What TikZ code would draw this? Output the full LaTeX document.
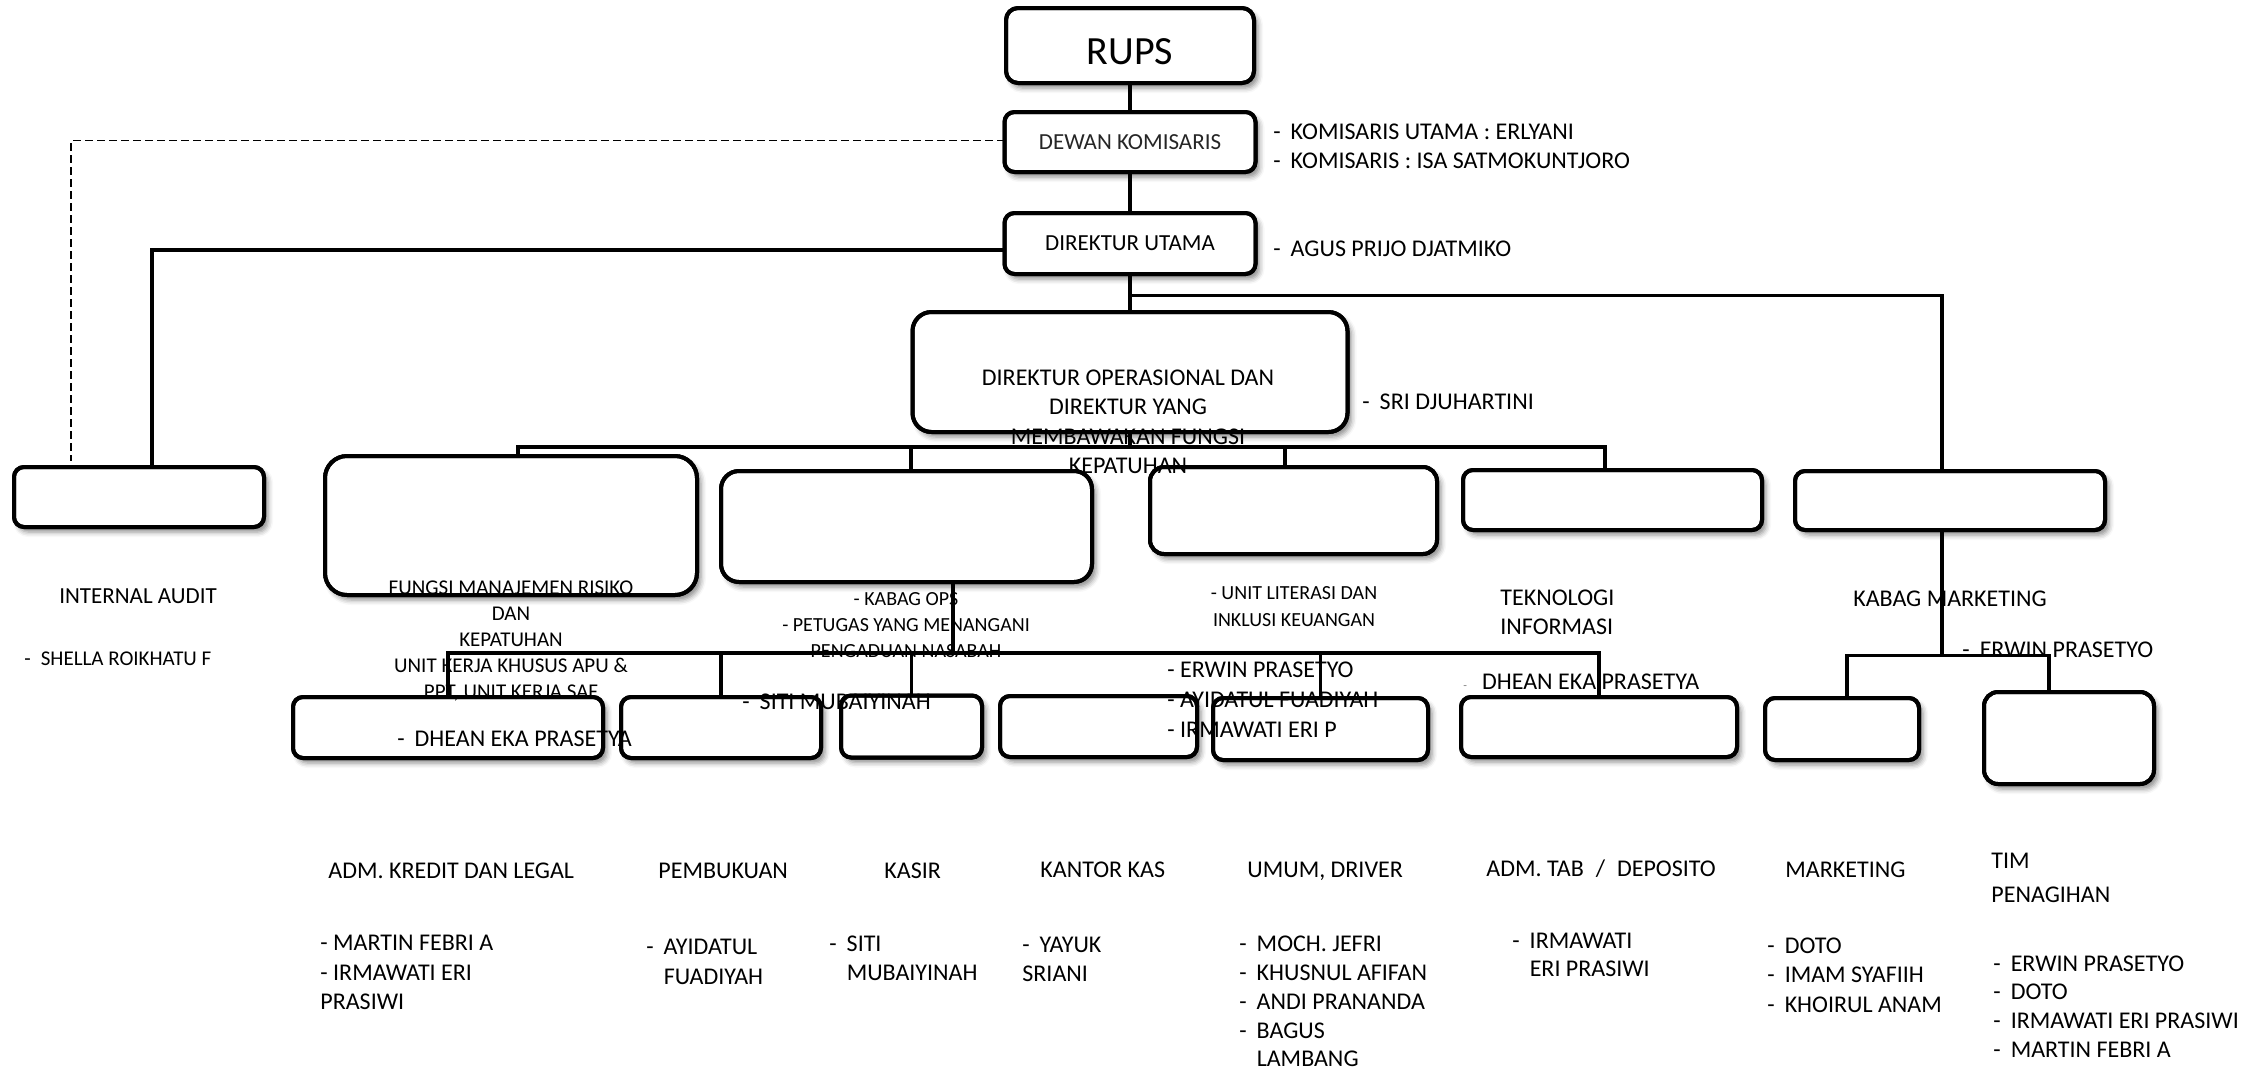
\documentclass[tikz,border=0pt]{standalone}
\usepackage{fontspec}
\setmainfont{Carlito}
\usetikzlibrary{shadows.blur}
\newcommand{\tb}{-\hspace{5pt}}
\begin{document}
\begin{tikzpicture}[x=0.5pt,y=-0.5pt,
  box/.style={draw, line width=2pt, fill=white, inner sep=0pt, outer sep=0pt, rounded corners=5pt,
    blur shadow={shadow xshift=2pt, shadow yshift=-2.5pt, shadow blur radius=2.5pt, shadow opacity=45}},
  conn/.style={line width=1.6pt},
  dashconn/.style={line width=0.8pt, dash pattern=on 4pt off 2pt},
  t12/.style={inner sep=0pt, align=left, anchor=north west, font=\fontsize{12}{14.6}\selectfont},
  t10/.style={inner sep=0pt, align=center, anchor=north, font=\fontsize{10}{13}\selectfont},
]
\useasboundingbox (0,0) rectangle (2264,1067);

% ---------- boxes ----------
\node[box, rounded corners=6pt, minimum width=124pt, minimum height=37.5pt, font=\fontsize{20}{24}\selectfont] (rups) at (1130,45.5) {\raisebox{-3.25pt}[\height][\depth]{RUPS}};
\node[box, minimum width=125.5pt, minimum height=30pt, font=\fontsize{11.5}{14}\selectfont, text=black!85] (dk) at (1130,142) {DEWAN KOMISARIS};
\node[box, minimum width=125.5pt, minimum height=30.5pt, font=\fontsize{11.5}{14}\selectfont] (du) at (1130,243.5) {DIREKTUR UTAMA};
\node[box, rounded corners=9.5pt, minimum width=217.5pt, minimum height=60pt] (do) at (1130,372) {};
\node[box, minimum width=125pt, minimum height=30pt] (ia) at (139,497) {};
\node[box, rounded corners=11pt, minimum width=186pt, minimum height=69.5pt] (A) at (511,525.5) {};
\node[box, rounded corners=9pt, minimum width=185.5pt, minimum height=55.5pt] (B) at (906.5,526.5) {};
\node[box, rounded corners=7pt, minimum width=143.5pt, minimum height=43.5pt] (C) at (1293.5,510.5) {};
\node[box, minimum width=149.5pt, minimum height=30pt] (D) at (1612.5,500) {};
\node[box, minimum width=155pt, minimum height=29.5pt] (E) at (1950,500.5) {};
\node[box, minimum width=155pt, minimum height=30.5pt] (b1) at (448,727.5) {};
\node[box, minimum width=100pt, minimum height=30.5pt] (b2) at (721,727.5) {};
\node[box, minimum width=70.5pt, minimum height=31pt] (b3) at (911.5,726.5) {};
\node[box, minimum width=98.5pt, minimum height=30.5pt] (b4) at (1098.5,726.5) {};
\node[box, minimum width=107.5pt, minimum height=31pt] (b5) at (1320.5,729) {};
\node[box, minimum width=138pt, minimum height=30pt] (b6) at (1599,727) {};
\node[box, minimum width=77pt, minimum height=31pt] (b7) at (1842,729) {};
\node[box, rounded corners=7pt, minimum width=85pt, minimum height=46pt] (b8) at (2069,738) {};

% ---------- texts ----------
\node[t12, font=\fontsize{12}{14.5}\selectfont] (komt) at (1273,123.5) {\tb KOMISARIS UTAMA : ERLYANI\\\tb KOMISARIS : ISA SATMOKUNTJORO};
\node[t12] (agust) at (1273,240.5) {\tb AGUS PRIJO DJATMIKO};
\node[t12] (srit) at (1362,393.5) {\tb SRI DJUHARTINI};
\node[t12, align=center, anchor=north, font=\fontsize{12}{14.65}\selectfont] (dot) at (1128,369.5) {DIREKTUR OPERASIONAL DAN\\DIREKTUR YANG\\MEMBAWAKAN FUNGSI\\KEPATUHAN};
\node[t12, anchor=center, font=\fontsize{11.5}{14}\selectfont] (iat) at (138,596) {INTERNAL AUDIT};
\node[t12, font=\fontsize{10.5}{13}\selectfont] (shella) at (24,651.5) {\tb SHELLA ROIKHATU F};
\node[t10, font=\fontsize{10.5}{13}\selectfont] (fmrt) at (511,580.3) {FUNGSI MANAJEMEN RISIKO\\DAN\\KEPATUHAN\\UNIT KERJA KHUSUS APU \&\\PPT, UNIT KERJA SAF};
\node[t12] (dhean1) at (397,731) {\tb DHEAN EKA PRASETYA};
\node[t10] (opst) at (906,591.7) {- KABAG OPS\\- PETUGAS YANG MENANGANI\\PENGADUAN NASABAH};
\node[t12] (siti1) at (742,694) {\tb SITI MUBAIYINAH};
\node[t10, font=\fontsize{10}{13.5}\selectfont] (litt) at (1294,586.6) {- UNIT LITERASI DAN\\INKLUSI KEUANGAN};
\node[t12, font=\fontsize{12}{15}\selectfont] (erwt) at (1167,661.5) {- ERWIN PRASETYO\\- AYIDATUL FUADIYAH\\- IRMAWATI ERI P};
\node[t12, font=\fontsize{12}{14.5}\selectfont] (tit) at (1500,589.5) {TEKNOLOGI\\INFORMASI};
\node[t12] (dhean2) at (1463,674) {{\color{gray}\fontsize{6}{7}\selectfont -}\hspace{7.5pt}DHEAN EKA PRASETYA};
\node[t12, anchor=center] (kmt) at (1950,598.7) {KABAG MARKETING};
\node[t12] (erw2) at (1962,641.5) {\tb ERWIN PRASETYO};

\node[t12] (h1) at (328,862.4) {ADM. KREDIT DAN LEGAL};
\node[t12] (h2) at (658,862.4) {PEMBUKUAN};
\node[t12] (h3) at (884,862.4) {KASIR};
\node[t12] (h4) at (1040,861.4) {KANTOR KAS};
\node[t12] (h5) at (1247,861.4) {UMUM, DRIVER};
\node[t12, anchor=base west] (h6) at (1486,876.6) {ADM. TAB\hspace{6pt}/\hspace{6pt}DEPOSITO};
\node[t12] (h7) at (1785,861.4) {MARKETING};
\node[t12, font=\fontsize{12}{17}\selectfont] (h8) at (1991,852.4) {TIM\\PENAGIHAN};

\node[t12, font=\fontsize{12}{14.9}\selectfont] (l1) at (320,934.4) {- MARTIN FEBRI A\\- IRMAWATI ERI\\PRASIWI};
\node[t12, font=\fontsize{12}{14.9}\selectfont] (l2) at (646,938.4) {\tb AYIDATUL\\\phantom{\tb}FUADIYAH};
\node[t12] (l3) at (829,935.7) {\tb SITI\\\phantom{\tb}MUBAIYINAH};
\node[t12] (l4) at (1022,936.4) {\tb YAYUK\\SRIANI};
\node[t12, font=\fontsize{12}{14.4}\selectfont] (l5) at (1239,935.7) {\tb MOCH. JEFRI\\\tb KHUSNUL AFIFAN\\\tb ANDI PRANANDA\\\tb BAGUS\\\phantom{\tb}LAMBANG};
\node[t12, font=\fontsize{12}{14.2}\selectfont] (l6) at (1512,932.4) {\tb IRMAWATI\\\phantom{\tb}ERI PRASIWI};
\node[t12, font=\fontsize{12}{14.8}\selectfont] (l7) at (1767,937.4) {\tb DOTO\\\tb IMAM SYAFIIH\\\tb KHOIRUL ANAM};
\node[t12, font=\fontsize{12}{14.4}\selectfont] (l8) at (1993,955.1) {\tb ERWIN PRASETYO\\\tb DOTO\\\tb IRMAWATI ERI PRASIWI\\\tb MARTIN FEBRI A};

% ---------- borders over text ----------
\foreach \n/\r in {rups/6pt, dk/5pt, du/5pt, do/9.5pt, ia/5pt, A/11pt, B/9pt, C/7pt, D/5pt, E/5pt,
  b1/5pt, b2/5pt, b3/5pt, b4/5pt, b5/5pt, b6/5pt, b7/5pt, b8/7pt}
  {\draw[line width=2pt, rounded corners=\r] (\n.south west) rectangle (\n.north east);}

% ---------- connectors ----------
\coordinate (dashEnd) at (71,461);
\coordinate (iaJ) at (152,469);
\coordinate (jR) at (1130,295.5);
\coordinate (bar1) at (1130,447);
\coordinate (bar2) at (953,653);
\coordinate (bar3) at (1942,655.5);

\draw[conn] (rups) -- (dk);
\draw[conn] (dk) -- (du);
\draw[conn] (du) -- (do);
\draw[dashconn] ([yshift=0.75pt]dk.west) -| (dashEnd);
\draw[conn] ([yshift=-3.25pt]du.west) -| (iaJ);
\draw[conn] (jR) -| ([xshift=-4pt]E.north);
\draw[conn] (do) -- (bar1);
\draw[conn] ([xshift=3.5pt]A.north) |- (bar1) -| ([xshift=-3.75pt]D.north);
\draw[conn] ([xshift=2.25pt]B.north) -- ([xshift=2.25pt]B.north |- bar1);
\draw[conn] ([xshift=-4.25pt]C.north) -- ([xshift=-4.25pt]C.north |- bar1);
\draw[conn] (B.south -| bar2) -- (bar2);
\draw[conn] (b1.north) |- (bar2) -| (b6.north);
\draw[conn] (b2.north) -- (b2.north |- bar2);
\draw[conn] (b3.north) -- (b3.north |- bar2);
\draw[conn] (b5.north) -- (b5.north |- bar2);
\draw[conn] ([xshift=-4pt]E.south) -- (bar3);
\draw[conn] ([xshift=2.5pt]b7.north) |- (bar3) -| ([xshift=-10pt]b8.north);
\end{tikzpicture}
\end{document}
